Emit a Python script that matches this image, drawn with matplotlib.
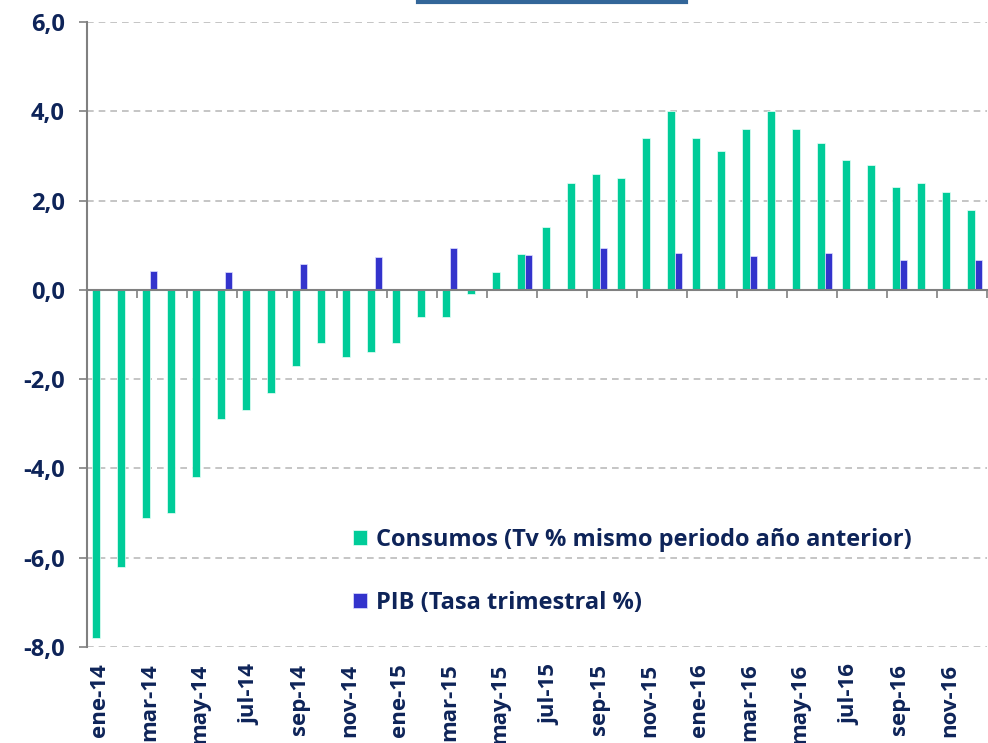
import numpy as np
import matplotlib.pyplot as plt
from matplotlib.lines import Line2D
from matplotlib.ticker import FuncFormatter

# Datos mensuales (ene-14 .. dic-16)
meses = ['ene', 'feb', 'mar', 'abr', 'may', 'jun', 'jul', 'ago', 'sep', 'oct', 'nov', 'dic']
anios = ['14', '15', '16']
etiquetas = [m + '-' + a for a in anios for m in meses]

consumos = [-7.8, -6.2, -5.1, -5.0, -4.2, -2.9, -2.7, -2.3, -1.7, -1.2, -1.5, -1.4,
            -1.2, -0.6, -0.6, -0.1, 0.4, 0.8, 1.4, 2.4, 2.6, 2.5, 3.4, 4.0,
            3.4, 3.1, 3.6, 4.0, 3.6, 3.3, 2.9, 2.8, 2.3, 2.4, 2.2, 1.8]

# PIB trimestral (solo en mar, jun, sep, dic)
pib = [np.nan, np.nan, 0.42, np.nan, np.nan, 0.39, np.nan, np.nan, 0.58, np.nan, np.nan, 0.73,
       np.nan, np.nan, 0.94, np.nan, np.nan, 0.77, np.nan, np.nan, 0.93, np.nan, np.nan, 0.83,
       np.nan, np.nan, 0.76, np.nan, np.nan, 0.82, np.nan, np.nan, 0.68, np.nan, np.nan, 0.68]

verde = '#00CC99'
azul = '#3333CC'
navy = '#0E2459'
gris = '#808080'

plt.rcParams['font.family'] = ['Open Sans', 'DejaVu Sans']
plt.rcParams['font.weight'] = 'bold'

fig = plt.figure(figsize=(9.88, 7.43), dpi=100)
ax = fig.add_axes([87 / 988, 1 - 647 / 743, 900 / 988, (647 - 22) / 743])

x = np.arange(len(etiquetas))
w = 0.3
ax.bar(x - w / 2, consumos, w, color=verde, edgecolor='#E8FFF8', linewidth=0.5,
       label='Consumos (Tv % mismo periodo año anterior)', zorder=3)
ax.bar(x + w / 2, pib, w, color=azul, edgecolor='#E0E0FF', linewidth=0.5,
       label='PIB (Tasa trimestral %)', zorder=3)

ax.set_xlim(-0.5, len(etiquetas) - 0.5)
ax.set_ylim(-8, 6)
ax.set_yticks(np.arange(-8, 7, 2))
ax.yaxis.set_major_formatter(FuncFormatter(lambda v, p: f'{v:.1f}'.replace('.', ',')))
ax.tick_params(axis='y', direction='out', length=6, width=1.2, color=gris,
               labelsize=17, labelcolor=navy, pad=10)
for t in ax.get_yticklabels():
    t.set_fontweight('bold')
ax.grid(axis='y', linestyle=(0, (4, 3)), color='#BBBBBB', linewidth=1.2, zorder=0)

for s in ['top', 'right']:
    ax.spines[s].set_visible(False)
ax.spines['left'].set_color(gris)
ax.spines['left'].set_linewidth(1.5)
ax.spines['bottom'].set_position(('data', 0))
ax.spines['bottom'].set_color(gris)
ax.spines['bottom'].set_linewidth(1.5)
ax.spines['bottom'].set_zorder(4)

# marcas en el eje cero cada dos meses
ax.set_xticks(np.arange(1.5, len(etiquetas), 2))
ax.tick_params(axis='x', direction='out', length=6, width=1.2, color=gris, labelbottom=False)

# etiquetas del eje x en la parte inferior
sec = ax.secondary_xaxis(0)
sec.set_xticks(x[::2])
sec.set_xticklabels(etiquetas[::2], rotation=90, fontweight='bold')
sec.tick_params(axis='x', length=0, labelsize=16, labelcolor=navy, pad=12)
sec.spines['bottom'].set_visible(False)

leg = ax.legend(loc='upper left', bbox_to_anchor=(0.295, 0.19), frameon=False,
                prop={'size': 17, 'weight': 'bold'}, labelcolor=navy,
                handlelength=0.6, handleheight=0.6, handletextpad=0.4,
                labelspacing=1.65, borderpad=0, borderaxespad=0)

# subrayado del título (recortado arriba)
fig.add_artist(Line2D([418 / 988, 686 / 988], [1 - 2 / 743, 1 - 2 / 743],
                      transform=fig.transFigure, color='#336699', linewidth=3))

fig.savefig('out.png', dpi=100)
